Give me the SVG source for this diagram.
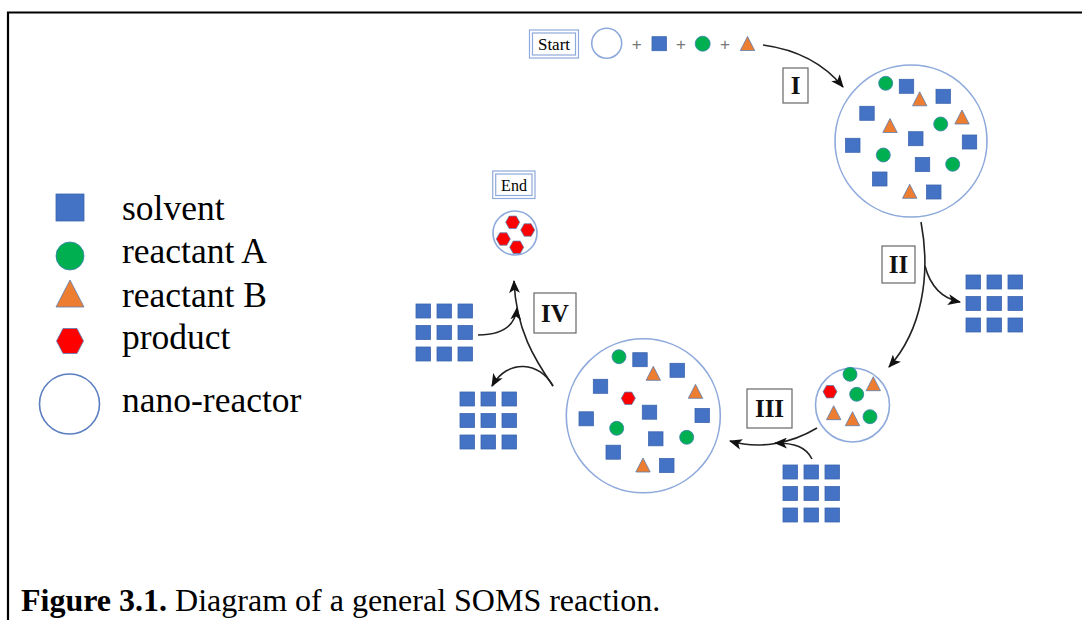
<svg xmlns="http://www.w3.org/2000/svg" xmlns:xlink="http://www.w3.org/1999/xlink" width="1082" height="620" viewBox="0 0 1082 620">
<style>
.sq{fill:#4472C4;stroke:#3C66B0;stroke-width:0.8}
.ga{fill:#00B050;stroke:#3E7FB0;stroke-width:0.8}
.tb{fill:#ED7D31;stroke:#5B7DB1;stroke-width:0.8}
.hx{fill:#FF0000;stroke:#5B7DB1;stroke-width:0.8}
.nr{fill:#FFFFFF;stroke:#8EA9DB;stroke-width:1.6}
.lbl{font-family:"Liberation Serif","Times New Roman",serif;fill:#000}
.leg{font-family:"Liberation Serif","Times New Roman",serif;font-size:35.5px;fill:#000}
.rom{font-family:"Liberation Serif","Times New Roman",serif;font-size:25px;font-weight:bold;fill:#111;text-anchor:middle}
.rbox{fill:#FFFFFF;stroke:#666;stroke-width:1.2}
.dbl{fill:#FFFFFF;stroke:#8EA9DB;stroke-width:1.2}
.plus{font-family:"Liberation Sans",Arial,sans-serif;font-size:17px;fill:#777;text-anchor:middle}
.arr{fill:none;stroke:#222;stroke-width:1.6;marker-end:url(#ah)}
</style>
<defs>
<marker id="ah" viewBox="0 0 12 10" refX="11" refY="5" markerWidth="13" markerHeight="11" markerUnits="userSpaceOnUse" orient="auto">
<path d="M0,0 L12,5 L0,10 L3,5 Z" fill="#111"/>
</marker>
<rect id="s" x="-7.2" y="-7" width="14.4" height="14" class="sq"/>
<circle id="c" r="7" class="ga"/>
<path id="t" d="M0,-7 L7.2,7 L-7.2,7 Z" class="tb"/>
<path id="h" d="M-7,0 L-3.5,-6.2 L3.5,-6.2 L7,0 L3.5,6.2 L-3.5,6.2 Z" class="hx"/>
<g id="grid">
<rect x="0" y="0" width="14.5" height="14" class="sq"/>
<rect x="21" y="0" width="14.5" height="14" class="sq"/>
<rect x="42" y="0" width="14.5" height="14" class="sq"/>
<rect x="0" y="21.5" width="14.5" height="14" class="sq"/>
<rect x="21" y="21.5" width="14.5" height="14" class="sq"/>
<rect x="42" y="21.5" width="14.5" height="14" class="sq"/>
<rect x="0" y="43" width="14.5" height="14" class="sq"/>
<rect x="21" y="43" width="14.5" height="14" class="sq"/>
<rect x="42" y="43" width="14.5" height="14" class="sq"/>
</g>
</defs>
<rect x="0" y="0" width="1082" height="620" fill="#FFFFFF"/>
<path d="M8,620 L8,12.5 L1082,12.5" fill="none" stroke="#000" stroke-width="2.2"/>

<g id="legend">
<rect x="56" y="194" width="28" height="27" class="sq"/>
<circle cx="70" cy="256" r="14" class="ga"/>
<path d="M70,280 L84,307 L56,307 Z" class="tb"/>
<path d="M56.5,341 L63,328.5 L77,328.5 L83.5,341 L77,353.5 L63,353.5 Z" class="hx"/>
<circle cx="69.5" cy="404" r="30" fill="#FFFFFF" stroke="#5A7EC0" stroke-width="1.6"/>
<text class="leg" x="122" y="220">solvent</text>
<text class="leg" x="122" y="263">reactant A</text>
<text class="leg" x="122" y="307">reactant B</text>
<text class="leg" x="122" y="349">product</text>
<text class="leg" x="122" y="412">nano-reactor</text>
</g>

<g id="start">
<rect x="529.5" y="30" width="49" height="28" class="dbl"/>
<rect x="532.5" y="33" width="43" height="22" class="dbl"/>
<text class="lbl" x="554" y="50" font-size="17" text-anchor="middle">Start</text>
</g>

<g id="reagents">
<circle cx="606.7" cy="43.3" r="15" class="nr"/>
<text class="plus" x="636.7" y="49.5">+</text>
<use xlink:href="#s" x="659.2" y="43.7"/>
<text class="plus" x="681" y="49.5">+</text>
<circle cx="702.7" cy="43.7" r="7.5" class="ga"/>
<text class="plus" x="725" y="49.5">+</text>
<use xlink:href="#t" x="747.5" y="43.5"/>
</g>

<g id="reactor1">
<circle cx="911" cy="141" r="76" class="nr"/>
<use xlink:href="#s" x="906.5" y="86.3"/>
<use xlink:href="#s" x="943.2" y="96.3"/>
<use xlink:href="#s" x="867" y="113.3"/>
<use xlink:href="#s" x="915.8" y="138.7"/>
<use xlink:href="#s" x="852.8" y="145.3"/>
<use xlink:href="#s" x="969.5" y="142"/>
<use xlink:href="#s" x="922.5" y="164.5"/>
<use xlink:href="#s" x="879.8" y="179"/>
<use xlink:href="#s" x="933.8" y="192"/>
<use xlink:href="#c" x="885.7" y="83.3"/>
<use xlink:href="#c" x="940.7" y="124"/>
<use xlink:href="#c" x="883.3" y="155"/>
<use xlink:href="#c" x="952.7" y="164.3"/>
<use xlink:href="#t" x="919.7" y="98.8"/>
<use xlink:href="#t" x="890" y="125.5"/>
<use xlink:href="#t" x="962" y="117"/>
<use xlink:href="#t" x="909.7" y="191.3"/>
</g>

<g id="solvent-out-II"><use xlink:href="#grid" x="966" y="275"/></g>

<g id="reactor2">
<circle cx="852.5" cy="405" r="37" class="nr"/>
<use xlink:href="#c" x="850" y="374.3"/>
<use xlink:href="#c" x="856.7" y="394.3"/>
<use xlink:href="#c" x="870" y="416.7"/>
<use xlink:href="#h" x="830" y="391.7"/>
<use xlink:href="#t" x="873.3" y="383.7"/>
<use xlink:href="#t" x="833.7" y="412.7"/>
<use xlink:href="#t" x="852.5" y="418.7"/>
</g>

<g id="solvent-in-III"><use xlink:href="#grid" x="783" y="465"/></g>

<g id="reactor3">
<circle cx="643.3" cy="415.8" r="77" class="nr"/>
<use xlink:href="#s" x="640" y="359.7"/>
<use xlink:href="#s" x="677.2" y="370.3"/>
<use xlink:href="#s" x="600.5" y="386.3"/>
<use xlink:href="#s" x="649.5" y="412.2"/>
<use xlink:href="#s" x="702.2" y="415.5"/>
<use xlink:href="#s" x="586.2" y="418.8"/>
<use xlink:href="#s" x="655.8" y="438.8"/>
<use xlink:href="#s" x="613.2" y="452.2"/>
<use xlink:href="#s" x="666.8" y="465.5"/>
<use xlink:href="#c" x="619" y="356.7"/>
<use xlink:href="#c" x="616.7" y="428.3"/>
<use xlink:href="#c" x="686.7" y="437.3"/>
<use xlink:href="#t" x="653.3" y="373.3"/>
<use xlink:href="#t" x="695.5" y="391.3"/>
<use xlink:href="#t" x="643" y="465"/>
<use xlink:href="#h" x="628.3" y="398.3"/>
</g>

<g id="solvent-IV-a"><use xlink:href="#grid" x="416" y="304"/></g>
<g id="solvent-IV-b"><use xlink:href="#grid" x="460" y="392"/></g>

<g id="reactor-end">
<circle cx="515" cy="233" r="22" class="nr"/>
<use xlink:href="#h" x="512.7" y="222.3"/>
<use xlink:href="#h" x="527.7" y="230"/>
<use xlink:href="#h" x="503.3" y="239"/>
<use xlink:href="#h" x="516.7" y="247.3"/>
</g>

<g id="end">
<rect x="492.7" y="171" width="42.3" height="27.5" class="dbl"/>
<rect x="495.7" y="174" width="36.3" height="21.5" class="dbl"/>
<text class="lbl" x="514" y="190.5" font-size="16" text-anchor="middle">End</text>
</g>

<g id="step-I"><rect x="783" y="68" width="25" height="35" class="rbox"/><text class="rom" x="795.5" y="94">I</text></g>
<g id="step-II"><rect x="882" y="246" width="33" height="37" class="rbox"/><text class="rom" x="898.5" y="273">II</text></g>
<g id="step-III"><rect x="747" y="389" width="45" height="39" class="rbox"/><text class="rom" x="769.5" y="417">III</text></g>
<g id="step-IV"><rect x="534" y="293" width="42" height="40" class="rbox"/><text class="rom" x="555" y="322">IV</text></g>

<g id="connectors">
<path class="arr" d="M763,45 C800,50 825,65 843,87"/>
<path class="arr" d="M921,222 C931,275 922,330 889,367"/>
<path class="arr" d="M925,266 C930,285 940,298 960,302"/>
<path class="arr" d="M817,428 C792,443 760,450 730,441"/>
<path class="arr" d="M812,459 C806,447 795,443 775,443"/>
<path class="arr" d="M553,386 C535,360 516,330 514,281"/>
<path class="arr" d="M478,335 C500,335 515,327 517,308"/>
<path class="arr" d="M553,386 C540,362 508,358 492,386"/>
</g>

<g id="caption">
<text class="lbl" x="21" y="611" font-size="32"><tspan font-weight="bold">Figure 3.1.</tspan> Diagram of a general SOMS reaction.</text>
</g>
</svg>
